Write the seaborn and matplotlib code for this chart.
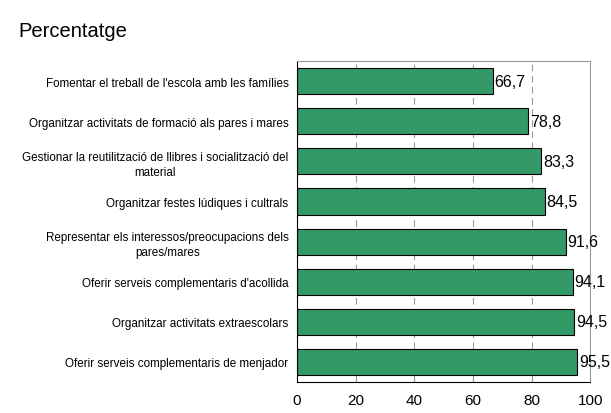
import matplotlib
matplotlib.use('Agg')

import numpy as np
import pandas as pd
import matplotlib.pyplot as plt
import seaborn as sns

# dades
categories = [
    "Fomentar el treball de l'escola amb les famílies",
    "Organitzar activitats de formació als pares i mares",
    "Gestionar la reutilització de llibres i socialització del\nmaterial",
    "Organitzar festes lúdiques i cultrals",
    "Representar els interessos/preocupacions dels\npares/mares",
    "Oferir serveis complementaris d'acollida",
    "Organitzar activitats extraescolars",
    "Oferir serveis complementaris de menjador",
]
values = [66.7, 78.8, 83.3, 84.5, 91.6, 94.1, 94.5, 95.5]
value_labels = ["66,7", "78,8", "83,3", "84,5", "91,6", "94,1", "94,5", "95,5"]
x_ticks = [0, 20, 40, 60, 80, 100]

df = pd.DataFrame({"categoria": categories, "valor": values})

sns.set_style("white")
plt.rcParams['font.family'] = ['Liberation Sans', 'DejaVu Sans']
plt.rcParams['text.color'] = 'black'
plt.rcParams['xtick.color'] = 'black'
plt.rcParams['ytick.color'] = 'black'

fig = plt.figure(figsize=(6.11, 4.14), dpi=100)
ax = fig.add_axes([0.486, 0.075, 0.48, 0.775])

sns.barplot(data=df, x="valor", y="categoria", orient="h", color="#339966",
            saturation=1, edgecolor="black", linewidth=0.8, width=0.65, ax=ax)

ax.set_xlim(0, 100)
ax.set_ylim(len(categories) - 0.5, -0.5)
ax.set_xticks(x_ticks)
ax.set_xticklabels([str(t) for t in x_ticks], fontsize=11)
ax.set_xlabel("")
ax.set_ylabel("")

# etiquetes de categoria centrades (estil Excel)
ax.set_yticks(range(len(categories)))
ax.set_yticklabels(categories, fontsize=8.4, linespacing=1.3)
for t in ax.get_yticklabels():
    t.set_multialignment("center")
ax.tick_params(axis="y", length=0, pad=6)
ax.set_yticks(np.arange(-0.5, len(categories) + 0.5, 1), minor=True)
ax.tick_params(axis="y", which="minor", length=4, width=0.8, color="black", direction="out")
ax.tick_params(axis="x", length=4, width=0.8, color="black", direction="out", pad=4)

# graella
for x in x_ticks[1:-1]:
    ax.axvline(x, color="#999999", linestyle=(0, (6, 4)), linewidth=0.8, zorder=0)
ax.spines["left"].set_color("black")
ax.spines["bottom"].set_color("black")
ax.spines["top"].set_color("#999999")
ax.spines["right"].set_color("#999999")
for s in ax.spines.values():
    s.set_linewidth(0.8)

for i, (v, lab) in enumerate(zip(values, value_labels)):
    ax.text(v + 0.6, i, lab, va="center", ha="left", fontsize=11.5)

fig.text(0.03, 0.925, "Percentatge", fontsize=14.5, ha="left", va="center")

fig.savefig("out.png", dpi=100)
plt.close()
